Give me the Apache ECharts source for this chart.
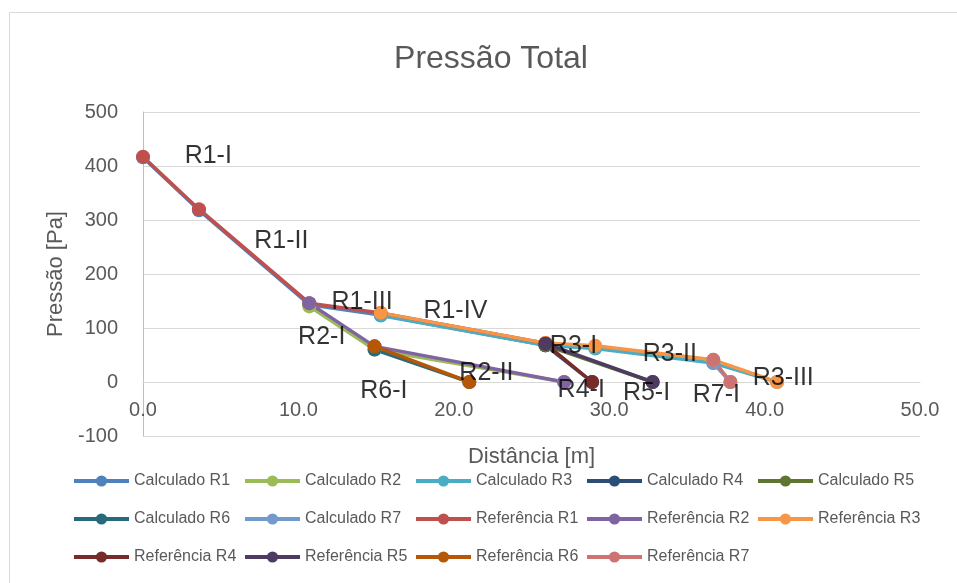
<!DOCTYPE html>
<html>
<head>
<meta charset="utf-8">
<script src="https://cdn.jsdelivr.net/npm/echarts@6/dist/echarts.min.js"></script>
<style>
html,body{margin:0;padding:0;background:#fff;}
#chart{width:957px;height:583px;}
</style>
</head>
<body>
<div id="chart"></div>
<script>
// ---- data (distance [m], pressure [Pa]) ----
const calcR1 = [[0,416],[3.6,318],[10.7,143],[15.3,124],[25.9,68]];
const calcR2 = [[10.7,140],[14.9,60],[27.1,0]];
const calcR3 = [[15.3,123],[25.9,68],[29.1,62],[36.7,35],[40.8,0]];
const calcR4 = [[25.9,68],[28.9,0]];
const calcR5 = [[25.9,68],[32.8,0]];
const calcR6 = [[14.9,60],[21.0,0]];
const calcR7 = [[36.7,35],[37.8,0]];

const refR1 = [[0,417],[3.6,320],[10.7,146],[15.3,128],[25.9,72]];
const refR2 = [[10.7,146],[14.9,66],[27.1,0]];
const refR3 = [[15.3,128],[25.9,72],[29.1,67],[36.7,41],[40.8,0]];
const refR4 = [[25.9,71],[28.9,0]];
const refR5 = [[25.9,71],[32.8,0]];
const refR6 = [[14.9,66],[21.0,0]];
const refR7 = [[36.7,41],[37.8,0]];

const seriesNames = ['Calculado R1','Calculado R2','Calculado R3','Calculado R4','Calculado R5','Calculado R6','Calculado R7',
  'Referência R1','Referência R2','Referência R3','Referência R4','Referência R5','Referência R6','Referência R7'];
const seriesData = [calcR1,calcR2,calcR3,calcR4,calcR5,calcR6,calcR7,refR1,refR2,refR3,refR4,refR5,refR6,refR7];
const seriesColors = ['#4F81BD','#9BBB59','#4BACC6','#2C4D75','#5F7530','#276A7C','#729ACA',
  '#C0504D','#8064A2','#F79646','#772C2A','#4D3B62','#B65708','#CD7371'];

// segment labels (placed in data coordinates)
const labelTexts = ['R1-I','R1-II','R1-III','R1-IV','R2-I','R6-I','R2-II','R3-I','R4-I','R5-I','R3-II','R7-I','R3-III'];
const labelX = [4.2, 8.9, 14.1, 20.1, 11.5, 15.5, 22.1, 27.7, 28.2, 32.4, 33.9, 36.9, 41.2];
const labelY = [418, 261, 148, 131, 83, -17, 17, 67, -15, -20, 52, -24, 7];

const xTicks = {min:0, max:50, interval:10};
const yTicks = {min:-100, max:500, interval:100};

const FONT = 'Liberation Sans, Arial, sans-serif';
const chart = echarts.init(document.getElementById('chart'));

const series = seriesNames.map((n,i)=>({
  name:n, type:'line', data:seriesData[i],
  symbol:'circle', symbolSize:14, showSymbol:true,
  lineStyle:{width:3.5, color:seriesColors[i]},
  itemStyle:{color:seriesColors[i]},
  emphasis:{disabled:true},
  animation:false
}));
series.push({
  name:'labels', type:'scatter', symbolSize:0, silent:true, animation:false,
  data: labelTexts.map((t,i)=>({name:t, value:[labelX[i],labelY[i]]})),
  label:{show:true, position:'inside', formatter:p=>p.name, color:'#000', fontSize:25, fontFamily:FONT},
  z:10
});

const gridTop = 112, gridBottom = 147, chartH = 583;
const plotH = chartH - gridTop - gridBottom;
// x axis crosses the value axis at 0 (Excel style)
const xAxisOffset = -plotH * (0 - yTicks.min) / (yTicks.max - yTicks.min);

chart.setOption({
  animation:false,
  title:{text:'Pressão Total', left:486, top:38, textAlign:'center',
    textStyle:{color:'#595959', fontSize:32, fontWeight:'normal', fontFamily:FONT}},
  graphic:[{type:'rect', shape:{x:9.5,y:12.5,width:1000,height:1000}, style:{fill:'none', stroke:'#D9D9D9', lineWidth:1}, silent:true, z:-10}],
  grid:{left:143, right:37, top:gridTop, bottom:gridBottom},
  xAxis:{type:'value', min:xTicks.min, max:xTicks.max, interval:xTicks.interval,
    position:'bottom', offset:xAxisOffset,
    name:'Distância [m]', nameLocation:'middle', nameGap:64,
    nameTextStyle:{color:'#595959', fontSize:22, fontFamily:FONT},
    axisLine:{show:true, onZero:false, lineStyle:{color:'#D9D9D9'}},
    axisTick:{show:false}, splitLine:{show:false},
    axisLabel:{color:'#595959', fontSize:20, fontFamily:FONT, margin:18, formatter:v=>v.toFixed(1)}},
  yAxis:{type:'value', min:yTicks.min, max:yTicks.max, interval:yTicks.interval,
    name:'Pressão [Pa]', nameLocation:'middle', nameGap:76, nameRotate:90,
    nameTextStyle:{color:'#595959', fontSize:22, fontFamily:FONT},
    axisLine:{show:true, onZero:false, lineStyle:{color:'#BFBFBF'}},
    axisTick:{show:false},
    splitLine:{show:true, lineStyle:{color:'#D9D9D9', width:1}},
    axisLabel:{color:'#595959', fontSize:20, fontFamily:FONT, margin:25}},
  legend:{data:seriesNames, left:72, top:462, width:890, orient:'horizontal', padding:0,
    itemWidth:55, itemHeight:14, itemGap:0,
    lineStyle:{width:4},
    textStyle:{color:'#595959', fontSize:16, fontFamily:FONT, width:109, overflow:'truncate', lineHeight:38},
    selectedMode:false},
  series:series
});
</script>
</body>
</html>
